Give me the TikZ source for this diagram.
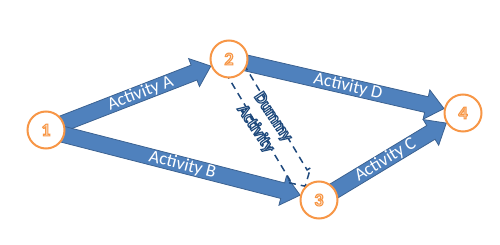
\documentclass[tikz,border=0pt]{standalone}
\usepackage{fontspec}
\setmainfont{Carlito}
\usetikzlibrary{calc}
\definecolor{afill}{RGB}{79,129,189}
\definecolor{adraw}{RGB}{60,98,145}
\definecolor{orng}{RGB}{247,150,70}
\definecolor{orngl}{RGB}{253,234,218}
\definecolor{dblue}{RGB}{31,73,125}
\pgfdeclarelayer{background}
\pgfsetlayers{background,main}
\newcommand{\blockarrow}[6]{%
  \coordinate (bh) at ($(#3)!#6!(#2)$);
  \path[#1] ($(#2)!#4!90:(#3)$) -- ($(bh)!#4!-90:(#2)$) -- ($(bh)!#5!-90:(#2)$) -- (#3)
    -- ($(bh)!#5!90:(#2)$) -- ($(bh)!#4!90:(#2)$) -- ($(#2)!#4!-90:(#3)$) -- cycle;}
\newcommand{\numtxt}[1]{{\color{orngl}\special{pdf:literal direct 2 Tr 1.1 w 0.97 0.59 0.27 RG}#1}}
\newcommand{\dtxt}[1]{{\color{white}\special{pdf:literal direct 2 Tr 1.2 w 0.12 0.29 0.49 RG}#1}}
\begin{document}
\begin{tikzpicture}[x=1pt,y=-1pt,
  circ/.style={circle, draw=orng, line width=2pt, fill=white, minimum size=37pt, inner sep=0pt,
    font=\bfseries\fontsize{18}{18}\selectfont},
  solidarrow/.style={fill=afill, draw=adraw, line width=0.8pt, line join=miter},
  dummyarrow/.style={draw=dblue, line width=1.5pt, dash pattern=on 7pt off 5pt},
  lbl/.style={text=white, inner sep=0pt, font=\fontsize{18}{18}\selectfont},
  dlbl/.style={inner sep=0pt, align=center, font=\bfseries\fontsize{17}{21}\selectfont}]
\useasboundingbox (0,0) rectangle (500,245);
\node[circ] (n1) at (46,130) {\numtxt{1}};
\node[circ] (n2) at (229,59) {\numtxt{2}};
\node[circ] (n3) at (319,200) {\numtxt{3}};
\node[circ] (n4) at (463,113) {\numtxt{4}};
\coordinate (tA) at ($(n2)!19.5pt!(n1)$);
\coordinate (tB) at ($(n3)!19.5pt!(n1)$);
\coordinate (tC) at ($(n4)!19.5pt!(n3)$);
\coordinate (tD) at ($(n4)!19.5pt!(n2)$);
\coordinate (tX) at (n3.north west);
\begin{pgfonlayer}{background}
\blockarrow{solidarrow}{n1}{tA}{8pt}{15pt}{18pt}
\blockarrow{solidarrow}{n1}{tB}{8pt}{15pt}{18pt}
\blockarrow{solidarrow}{n3}{tC}{8pt}{15pt}{18pt}
\blockarrow{solidarrow}{n2}{tD}{8pt}{15pt}{18pt}
\blockarrow{dummyarrow}{n2}{tX}{10pt}{14pt}{13pt}
\path (n1) -- (tA) node[lbl, pos=0.52, sloped] {Activity A};
\path (n1) -- (tB) node[lbl, pos=0.5, sloped] {Activity B};
\path (n3) -- (tC) node[lbl, pos=0.45, sloped] {Activity C};
\path (n2) -- (tD) node[lbl, pos=0.51, sloped] {Activity D};
\node[dlbl, rotate=-56] (dl) at (264,123) {\dtxt{Dummy}\\\dtxt{Activity}};
\end{pgfonlayer}
\end{tikzpicture}
\end{document}
